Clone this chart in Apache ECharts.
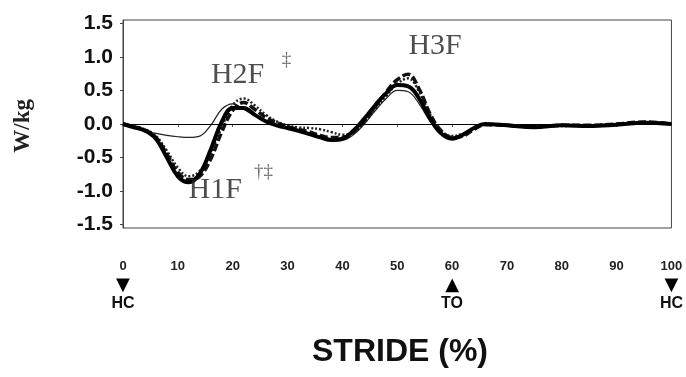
<!DOCTYPE html>
<html><head><meta charset="utf-8">
<script src="https://cdn.jsdelivr.net/npm/echarts@6/dist/echarts.min.js"></script>
<style>html,body{margin:0;padding:0;background:#fff}#c{width:686px;height:377px}</style>
</head><body><div id="c"></div>
<script>
const stride = [0,2,4,6,8,10,12,14,16,18,20,22,24,26,28,30,32,34,36,38,40,42,44,46,48,50,52,54,56,58,60,62,64,66,70,75,80,85,90,95,100];
const solidThick = [0,-0.05,-0.1,-0.22,-0.5,-0.78,-0.87,-0.74,-0.38,0.03,0.24,0.24,0.14,0.04,-0.02,-0.06,-0.1,-0.15,-0.2,-0.24,-0.22,-0.1,0.08,0.28,0.46,0.58,0.56,0.38,0.08,-0.14,-0.22,-0.16,-0.06,0,-0.02,-0.05,-0.02,-0.03,-0.01,0.02,0];
const dashedThick = [0,-0.04,-0.09,-0.2,-0.45,-0.72,-0.83,-0.78,-0.52,-0.12,0.2,0.32,0.22,0.1,0.02,-0.04,-0.08,-0.12,-0.17,-0.2,-0.2,-0.12,0.05,0.26,0.48,0.66,0.74,0.52,0.15,-0.1,-0.2,-0.18,-0.08,-0.01,-0.02,-0.04,-0.02,-0.02,0,0.03,0];
const dotted = [0,-0.04,-0.08,-0.18,-0.4,-0.65,-0.78,-0.7,-0.42,-0.05,0.28,0.38,0.28,0.14,0.04,-0.02,-0.05,-0.06,-0.08,-0.12,-0.16,-0.12,0.02,0.22,0.42,0.6,0.68,0.48,0.14,-0.1,-0.18,-0.14,-0.06,0,-0.02,-0.04,-0.03,-0.02,0,0.02,0];
const thinSolid = [0,-0.05,-0.1,-0.14,-0.17,-0.19,-0.2,-0.18,-0.02,0.22,0.3,0.22,0.12,0.04,-0.02,-0.06,-0.1,-0.14,-0.18,-0.22,-0.24,-0.16,0.0,0.2,0.38,0.5,0.48,0.3,0.04,-0.14,-0.2,-0.14,-0.05,0,-0.02,-0.05,-0.02,-0.03,-0.01,0.02,0];
const yTicks = [-1.5,-1.0,-0.5,0.0,0.5,1.0,1.5];
const xTicks = [0,10,20,30,40,50,60,70,80,90,100];
const events = {0:['▼','HC'],60:['▲','TO'],100:['▼','HC']};
const peakLabels = [
  {text:'H1F', x:16.8, y:-0.99},
  {text:'H2F', x:20.9, y:0.73},
  {text:'H3F', x:56.9, y:1.16}
];
const daggerLabels = [
  {text:'†‡', x:25.6, y:-0.72},
  {text:'‡', x:29.8, y:0.96}
];

const pair = a => stride.map((s,i)=>[s,a[i]]);
const chart = echarts.init(document.getElementById('c'));
const lineBase = {type:'line', showSymbol:false, smooth:0.4, z:3, animation:false};
chart.setOption({
  animation:false,
  grid:{left:123, right:13, top:20, bottom:149, show:true, borderColor:'#444', borderWidth:1},
  graphic:[
    {type:'text', left:12, top:99, rotation:Math.PI/2, style:{text:'W/kg', font:'bold 23px "Liberation Serif"', fill:'#222'}},
    {type:'text', x:400, y:352, style:{text:'STRIDE (%)', font:'bold 32px "Liberation Sans"', fill:'#111', textAlign:'center', textVerticalAlign:'middle'}}
  ],
  xAxis:{type:'value', min:0, max:100, interval:10,
    axisLine:{show:true, lineStyle:{color:'#555', width:1}},
    axisTick:{show:true, length:3, lineStyle:{color:'#555'}},
    splitLine:{show:false},
    axisLabel:{margin:29, fontFamily:'Liberation Sans', fontWeight:'bold', fontSize:13, color:'#222', lineHeight:18,
      customValues:xTicks,
      formatter:v=>events[v]?('{n|'+v+'}\n{t|'+events[v][0]+'}\n{h|'+events[v][1]+'}'):('{n|'+v+'}'),
      rich:{n:{fontFamily:'Liberation Sans', fontWeight:'bold', fontSize:13, color:'#222', lineHeight:18},
            t:{fontFamily:'DejaVu Sans', fontSize:18, color:'#000', lineHeight:20},
            h:{fontFamily:'Liberation Sans', fontWeight:'bold', fontSize:16, color:'#111', lineHeight:18}},
      verticalAlign:'top'}
  },
  yAxis:{type:'value', min:-1.55, max:1.55,
    axisLine:{show:true, lineStyle:{color:'#444'}},
    axisTick:{show:true, length:3, customValues:yTicks},
    splitLine:{show:false},
    axisLabel:{customValues:yTicks, formatter:v=>v.toFixed(1), margin:10, fontFamily:'Liberation Sans', fontWeight:'bold', fontSize:21, color:'#111'}
  },
  series:[
    Object.assign({}, lineBase, {data:pair(thinSolid), lineStyle:{color:'#222', width:1.2}}),
    Object.assign({}, lineBase, {data:pair(dotted), lineStyle:{color:'#222', width:2.5, type:[2,2]}}),
    Object.assign({}, lineBase, {data:pair(dashedThick), lineStyle:{color:'#111', width:3.5, type:[8,3]}}),
    Object.assign({}, lineBase, {data:pair(solidThick), lineStyle:{color:'#000', width:4}, 
      markLine:{silent:true, symbol:'none', label:{show:false}, lineStyle:{color:'#000', width:1, type:'solid'}, data:[{yAxis:0}]}}),
    {type:'scatter', symbolSize:0, z:5, data:peakLabels.map(a=>[a.x,a.y,a.text]),
      label:{show:true, position:'inside', formatter:p=>p.data[2], fontFamily:'Liberation Serif', fontSize:30, color:'#222'}},
    {type:'scatter', symbolSize:0, z:5, data:daggerLabels.map(a=>[a.x,a.y,a.text]),
      label:{show:true, position:'inside', formatter:p=>p.data[2], fontFamily:'Liberation Serif', fontSize:19, color:'#444'}}
  ]
});
</script></body></html>
